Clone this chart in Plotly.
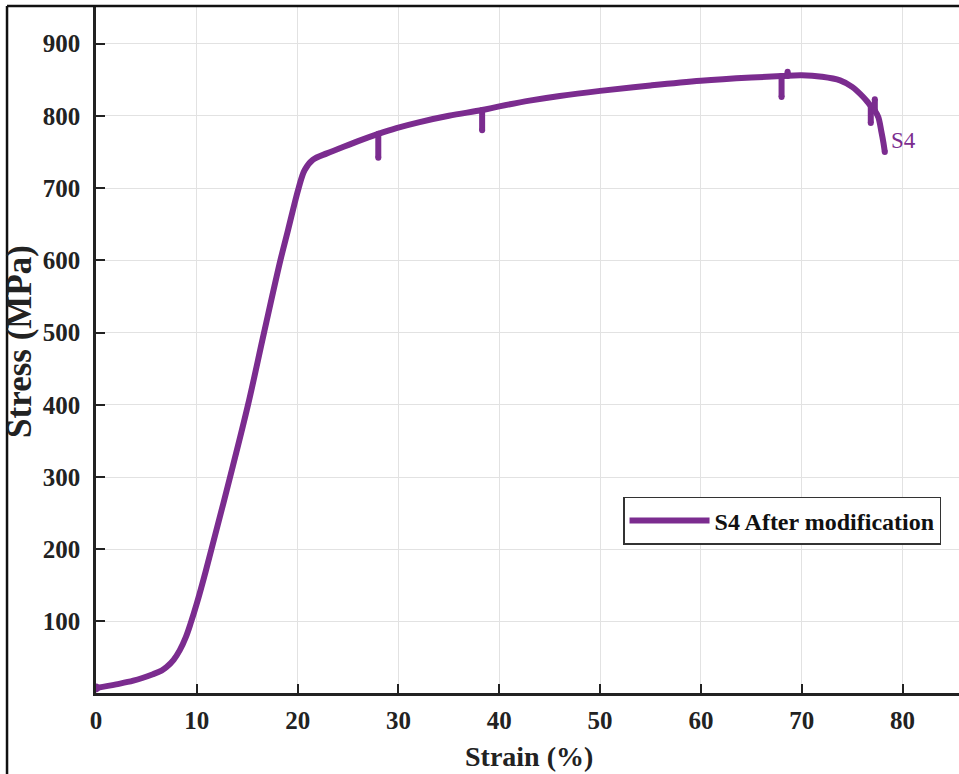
import plotly.graph_objects as go

# Smooth stress-strain curve (strain %, stress MPa)
strain = [0, 2.0, 3.7, 5.65, 6.5, 7.0, 7.7, 8.3, 8.9, 9.4, 10.0, 10.7, 11.45,
          13.3, 15.08, 16.67, 18.29, 19.05, 20.1, 20.7, 21.5, 22.9, 24.0, 26.0,
          28.0, 29.8, 32.0, 35.0, 38.3, 40.0, 43.0, 46.0, 50.0, 55.0, 60.0,
          65.0, 68.0, 70.0, 72.0, 73.8, 75.0, 76.1, 76.6, 77.0, 77.3, 77.6,
          77.9, 78.1, 78.24]
stress = [8, 13, 18, 27, 32, 37, 47, 60, 78, 98, 125, 160, 200,
          300, 400, 500, 600, 642, 700, 725, 739, 748, 754, 765,
          775, 783, 791, 800, 808, 813, 821, 827.5, 834.5, 842, 848.5,
          853, 855, 856, 854, 849, 840, 826, 818, 811, 806, 798,
          778, 763, 750]

# Short unloading dips / notches along the curve: strain, stress on curve, tip stress
dip_strain = [28.0, 38.3, 68.0, 68.6, 76.85, 77.25]
dip_top = [775, 808, 855, 855, 813, 807]
dip_tip = [742, 780, 826, 861, 790, 823]

series_name = "S4 After modification"
end_label = "S4"
x_ticks = [0, 10, 20, 30, 40, 50, 60, 70, 80]
y_ticks = [100, 200, 300, 400, 500, 600, 700, 800, 900]

purple = "#7B2C8F"
ink = "#222222"
serif = "Liberation Serif, Times New Roman, serif"
LW = 6

fig = go.Figure()
fig.add_trace(go.Scatter(
    x=strain, y=stress, mode="lines", name=series_name,
    line=dict(color=purple, width=LW, shape="spline", smoothing=1.0),
))
for xs, yt, yb in zip(dip_strain, dip_top, dip_tip):
    fig.add_trace(go.Scatter(
        x=[xs, xs], y=[yt, yb], mode="lines+markers", showlegend=False, hoverinfo="skip",
        line=dict(color=purple, width=LW), marker=dict(color=purple, size=6),
    ))
fig.add_trace(go.Scatter(
    x=strain[:1], y=stress[:1], mode="markers", showlegend=False,
    marker=dict(color=purple, size=9), hoverinfo="skip",
))
fig.add_trace(go.Scatter(
    x=strain[-1:], y=stress[-1:], mode="markers", showlegend=False,
    marker=dict(color=purple, size=6), hoverinfo="skip",
))

fig.add_annotation(
    x=strain[-1] + 0.45, y=stress[-1] + 16, xref="x", yref="y",
    text=end_label, showarrow=False, xanchor="left", yanchor="middle",
    font=dict(family=serif, size=23, color=purple),
)

# axis titles
fig.add_annotation(
    x=0.502, y=-0.093, xref="paper", yref="paper", text="<b>Strain (%)</b>",
    showarrow=False, xanchor="center", yanchor="middle",
    font=dict(family=serif, size=28, color=ink),
)
fig.add_annotation(
    x=-0.0885, y=0.512, xref="paper", yref="paper", text="<b>Stress (MPa)</b>",
    showarrow=False, xanchor="center", yanchor="middle", textangle=-90,
    font=dict(family=serif, size=35, color=ink),
)

# outer frame (left and top edges of the figure box)
fig.add_shape(type="line", xref="paper", yref="paper", x0=-0.1031, x1=1.0, y0=1, y1=1,
              line=dict(color="#111111", width=2.5))
fig.add_shape(type="line", xref="paper", yref="paper", x0=-0.1031, x1=-0.1031, y0=1, y1=-0.2,
              line=dict(color="#111111", width=2.5))

tickfont = dict(family=serif, size=25, color=ink, weight="bold")
fig.update_xaxes(
    range=[0, 85.6], tickmode="array", tickvals=x_ticks,
    showgrid=True, gridcolor="#e2e2e2", gridwidth=1, zeroline=False,
    showline=True, linecolor=ink, linewidth=2.5,
    ticks="inside", ticklen=9, tickwidth=2, tickcolor=ink,
    tickfont=tickfont, ticklabelstandoff=3,
)
fig.update_yaxes(
    range=[1, 952], tickmode="array", tickvals=y_ticks,
    showgrid=True, gridcolor="#e2e2e2", gridwidth=1, zeroline=False,
    showline=True, linecolor=ink, linewidth=2.5,
    ticks="inside", ticklen=9, tickwidth=2, tickcolor=ink,
    tickfont=tickfont, ticklabelstandoff=8,
)

fig.update_layout(
    width=959, height=774,
    margin=dict(l=96, r=0, t=6, b=81),
    paper_bgcolor="white", plot_bgcolor="white",
    font=dict(family=serif, size=25, color=ink),
    legend=dict(
        x=0.6107, y=0.2853, xanchor="left", yanchor="top",
        bgcolor="white", bordercolor="#333333", borderwidth=1.5,
        font=dict(family=serif, size=24, color="#111111", weight="bold"),
        itemwidth=80, tracegroupgap=0,
    ),
    showlegend=True,
)

fig.write_html("out.html", config={"displayModeBar": False},
               post_script="document.body.style.margin='0';")
